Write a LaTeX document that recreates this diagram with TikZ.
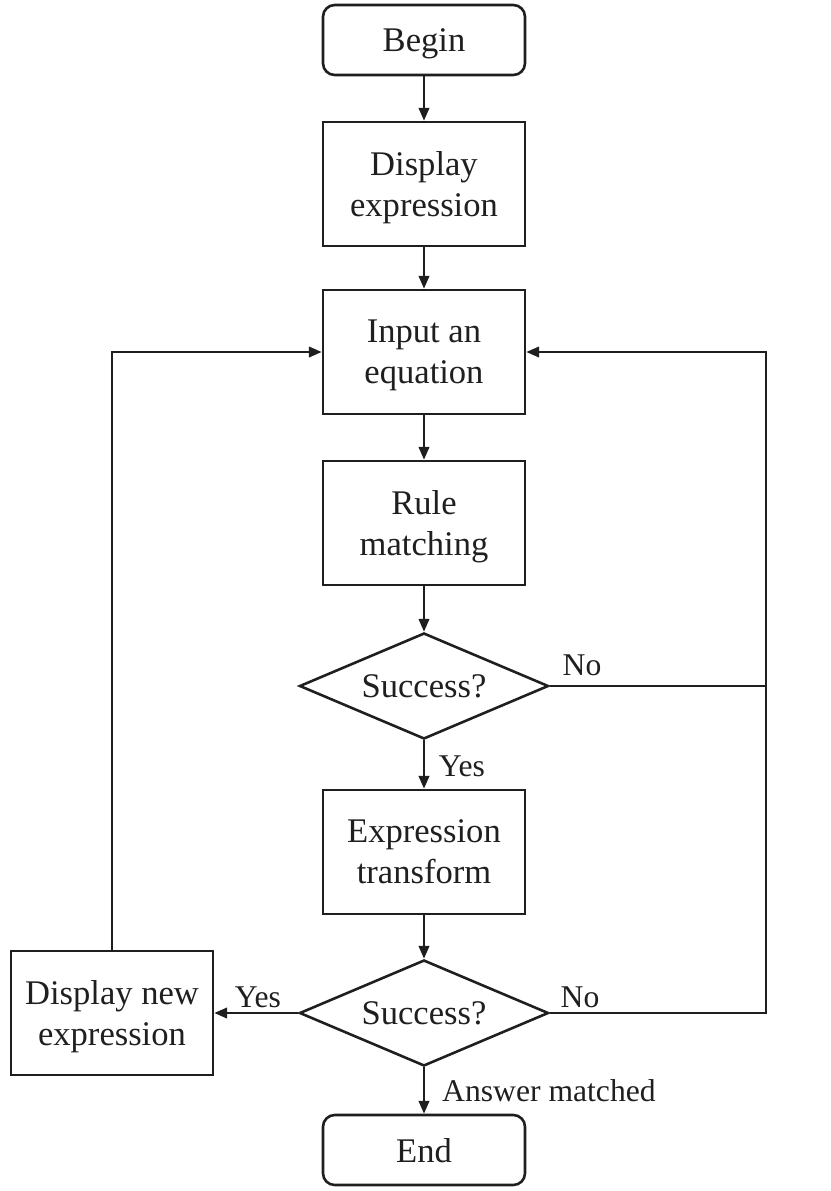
\documentclass[tikz,border=0pt]{standalone}
\usepackage{fontspec}
\setmainfont{Liberation Serif}
\usetikzlibrary{shapes.geometric,arrows.meta}

\tikzset{
  box/.style={draw, line width=2.2pt, minimum width=6.06cm, minimum height=3.72cm,
    align=center, inner sep=0pt, text depth=0pt, font=\fontsize{29.5}{35}\selectfont},
  term/.style={box, rounded corners=10pt, minimum height=2.1cm},
  decision/.style={draw, line width=2.2pt, shape=diamond, aspect=2.35, inner sep=0pt,
    minimum width=7.47cm, minimum height=3.18cm, text depth=0pt, font=\fontsize{29.5}{35}\selectfont},
  arr/.style={line width=1.9pt, -{Triangle[length=11pt,width=9pt]}},
  lbl/.style={font=\fontsize{27}{32}\selectfont, inner sep=0pt}
}

\begin{document}
\begin{tikzpicture}[x=0.03cm,y=-0.03cm, color={black!88}]

\useasboundingbox (0,0) rectangle (831,1191);

% -------------------------------------------------
% Noeuds
% -------------------------------------------------
\node[term] (begin) at (424,40) {Begin};
\node[box] (disp) at (424,184) {Display\\expression};
\node[box] (input) at (424,352) {Input an\\equation};
\node[box] (rule) at (424,523) {Rule\\matching};
\node[decision] (test1) at (424,686) {Success?};
\node[box] (trans) at (424,852) {Expression\\transform};
\node[decision] (test2) at (424,1013) {Success?};
\node[box] (newexp) at (112,1013) {Display new\\expression};
\node[term] (end) at (424,1150) {End};

% -------------------------------------------------
% Coins des retours
% -------------------------------------------------
\coordinate (noA) at (766,686);
\coordinate (noB) at (766,1013);
\coordinate (backR) at (766,352);
\coordinate (backL) at (112,352);

% -------------------------------------------------
% Fleches
% -------------------------------------------------
\draw[arr] (begin) -- (disp);
\draw[arr] (disp) -- (input);
\draw[arr] (input) -- (rule);
\draw[arr] (rule) -- (test1);
\draw[arr] (test1) -- (trans);
\draw[arr] (trans) -- (test2);
\draw[arr] (test2) -- (end);
\draw[line width=1.9pt] (test1.east) -- (noA);
\draw[arr] (test2.east) -- (noB) -- (backR) -- (input.east);
\draw[arr] (test2.west) -- (newexp.east);
\draw[arr] (newexp.north) -- (backL) -- (input.west);

% -------------------------------------------------
% Labels
% -------------------------------------------------
\node[lbl] (no1) at (582,665) {No};
\node[lbl] (yes1) at (462,766) {Yes};
\node[lbl] (no2) at (580,997) {No};
\node[lbl] (yes2) at (258,997) {Yes};
\node[lbl, anchor=west] (match) at (442,1091) {Answer matched};

\end{tikzpicture}
\end{document}
